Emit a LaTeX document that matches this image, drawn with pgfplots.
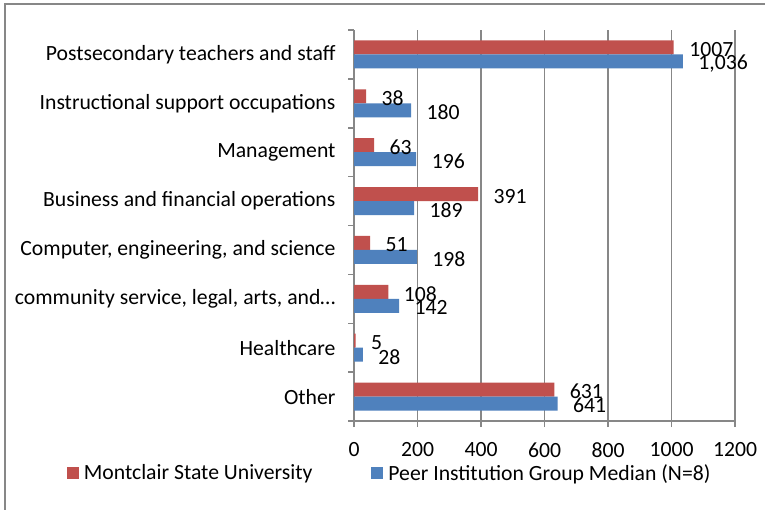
\documentclass[border=0pt]{standalone}
\usepackage{fontspec}
\setmainfont{Carlito}
\usepackage{pgfplots}
\pgfplotsset{compat=1.18}
\definecolor{msured}{HTML}{C0504D}
\definecolor{peerblue}{HTML}{4F81BD}
\definecolor{gridgray}{HTML}{878787}
\newcommand{\chartfont}{\fontsize{21.7}{26}\selectfont}

\begin{document}
\begin{tikzpicture}[x=1pt,y=1pt]
\useasboundingbox (0,0) rectangle (765,-510);
\fill[white] (0,0) rectangle (765,-510);
\draw[gridgray, line width=2pt] (5,-510) -- (5,-4) -- (765,-4);
\begin{axis}[
    at={(354pt,-421pt)}, anchor=south west,
    scale only axis, width=381pt, height=391pt,
    xmin=0, xmax=1200, ymin=-0.5, ymax=7.5,
    axis x line*=bottom, axis y line*=left,
    axis line style={gridgray, line width=1.5pt, -},
    xtick={0,200,...,1200},
    xmajorgrids, major grid style={gridgray, line width=1.5pt},
    ytick={-0.5,0.5,...,7.5}, yticklabels={},
    extra y ticks={0,1,2,3,4,5,6,7},
    extra y tick labels={Other, Healthcare, {community service, legal, arts, and…},
        {Computer, engineering, and science}, Business and financial operations,
        Management, Instructional support occupations, Postsecondary teachers and staff},
    extra y tick style={major tick length=0pt},
    tick align=outside, major tick length=6pt,
    tick style={gridgray, line width=1.5pt},
    tick label style={font=\chartfont, text=black},
    yticklabel style={xshift=-15pt},
    xticklabel style={yshift=-12pt},
    /pgf/number format/assume math mode=true,
    /pgf/number format/1000 sep={},
    bar width=14pt,
    point meta=explicit symbolic,
    nodes near coords,
    legend columns=2,
    legend style={at={(-0.762,-0.133)}, anchor=west, draw=none, fill=none,
        font=\chartfont, /tikz/every even column/.append style={column sep=57pt}},
    legend image code/.code={\fill[#1] (0pt,-6pt) rectangle (12pt,6pt);},
]
\addplot[xbar, fill=msured, draw=none, bar shift=7pt,
    nodes near coords style={anchor=west, xshift=12pt, yshift=5pt, font=\chartfont, text=black}]
    coordinates {
    (1007,7) [1007]
    (38,6) [38]
    (63,5) [63]
    (391,4) [391]
    (51,3) [51]
    (108,2) [108]
    (5,1) [5]
    (631,0) [631]
};
\addlegendentry{\hspace{3pt}Montclair State University}
\addplot[xbar, fill=peerblue, draw=none, bar shift=-7pt,
    nodes near coords style={anchor=west, xshift=12pt, yshift=-9pt, font=\chartfont, text=black}]
    coordinates {
    (1036,7) [1,036]
    (180,6) [180]
    (196,5) [196]
    (189,4) [189]
    (198,3) [198]
    (142,2) [142]
    (28,1) [28]
    (641,0) [641]
};
\addlegendentry{\hspace{3pt}Peer Institution Group Median (N=8)}
\end{axis}
\end{tikzpicture}
\end{document}
